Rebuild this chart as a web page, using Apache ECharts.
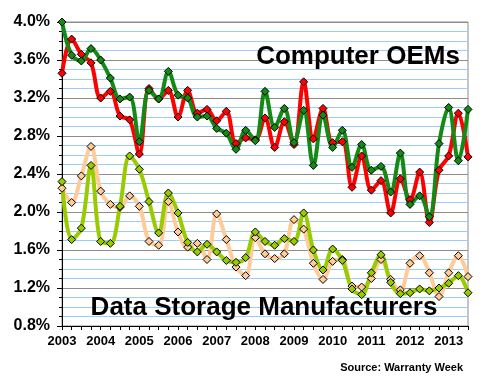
<!DOCTYPE html>
<html>
<head>
<meta charset="utf-8">
<script src="https://cdn.jsdelivr.net/npm/echarts@6/dist/echarts.min.js"></script>
<style>html,body{margin:0;padding:0;background:#fff}#c{width:480px;height:380px}</style>
</head>
<body>
<div id="c"></div>
<script>
var years = ['2003','2004','2005','2006','2007','2008','2009','2010','2011','2012','2013'];
var quarters = [];
for (var yi = 0; yi < years.length; yi++) { for (var q = 1; q <= 4; q++) { quarters.push(years[yi] + ' Q' + q); } }
quarters = quarters.slice(0, 43);

var oemGreen = [4.00,3.65,3.59,3.72,3.60,3.41,3.19,3.21,2.74,3.28,3.19,3.48,3.23,3.20,3.00,3.01,2.88,2.83,2.66,2.86,2.75,3.27,2.89,3.09,2.73,3.07,2.49,3.02,2.68,2.86,2.47,2.71,2.44,2.48,2.21,2.62,2.08,2.17,1.95,2.72,3.10,2.54,3.08];
var oemRed = [3.46,3.82,3.66,3.57,3.20,3.27,3.01,2.97,2.61,3.30,3.19,3.28,3.00,3.28,3.04,3.08,2.96,3.06,2.72,2.78,2.76,2.99,2.68,2.95,2.71,3.37,2.77,3.09,2.73,2.74,2.26,2.59,2.23,2.33,1.99,2.35,2.13,2.42,1.89,2.44,2.59,3.04,2.58];
var storageLime = [2.32,1.71,1.83,2.49,1.69,1.67,2.06,2.59,2.45,2.11,1.78,2.20,1.99,1.68,1.58,1.66,1.58,1.49,1.47,1.52,1.79,1.69,1.65,1.72,1.69,1.99,1.60,1.39,1.61,1.49,1.19,1.13,1.36,1.55,1.26,1.14,1.15,1.19,1.17,1.20,1.25,1.33,1.15];
var storagePeach = [2.25,2.10,2.38,2.69,2.22,2.08,2.05,2.17,2.06,1.69,1.65,2.11,1.79,1.63,1.67,1.50,1.98,1.71,1.42,1.33,1.73,1.56,1.51,1.56,1.92,1.82,1.46,1.29,1.48,1.50,1.22,1.21,1.30,1.50,1.29,1.18,1.46,1.54,1.36,1.11,1.36,1.54,1.32];

var yMin = 0.8, yMax = 4.0, yStep = 0.4;
var titleTop = 'Computer OEMs';
var titleBottom = 'Data Storage Manufacturers';
var sourceText = 'Source: Warranty Week';

function mkSeries(name, data, lineColor, fillColor) {
  return {
    name: name, type: 'line', data: data, smooth: 0.35,
    symbol: 'diamond', symbolSize: 8, showSymbol: true, showAllSymbol: true,
    lineStyle: { color: lineColor, width: 4 },
    itemStyle: { color: fillColor, borderColor: '#000', borderWidth: 1 },
    emphasis: { disabled: true }, animation: false
  };
}

var chart = echarts.init(document.getElementById('c'), null, { renderer: 'canvas' });
chart.setOption({
  animation: false,
  backgroundColor: '#fff',
  grid: { left: 62, right: 12, top: 22, bottom: 54, show: true, borderColor: '#8c8c8c', borderWidth: 1, backgroundColor: 'transparent' },
  title: [
    { text: titleTop, left: 358, top: 44, textAlign: 'center', padding: 0,
      textStyle: { fontFamily: 'Liberation Sans, Arial', fontWeight: 'bold', fontSize: 26, color: '#000' } },
    { text: titleBottom, left: 264, top: 295, textAlign: 'center', padding: 0,
      textStyle: { fontFamily: 'Liberation Sans, Arial', fontWeight: 'bold', fontSize: 26, color: '#000' } },
    { text: sourceText, right: 17, top: 362, padding: 0,
      textStyle: { fontFamily: 'Liberation Sans, Arial', fontWeight: 'bold', fontSize: 11, color: '#000' } }
  ],
  xAxis: {
    type: 'category', data: quarters, boundaryGap: false,
    axisLine: { lineStyle: { color: '#000', width: 1 } },
    axisTick: { show: true, interval: 0, length: 4, lineStyle: { color: '#000' } },
    axisLabel: { interval: 3, margin: 9, color: '#000', fontFamily: 'Liberation Sans, Arial', fontWeight: 'bold', fontSize: 13,
      formatter: function (v) { return v.split(' ')[0]; } },
    splitLine: { show: false }
  },
  yAxis: {
    type: 'value', min: yMin, max: yMax, interval: yStep,
    axisLine: { show: true, lineStyle: { color: '#000', width: 1 } },
    axisTick: { show: true, length: 5, lineStyle: { color: '#000' } },
    minorTick: { show: true, splitNumber: 4, length: 3, lineStyle: { color: '#000' } },
    axisLabel: { margin: 12, color: '#000', fontFamily: 'Liberation Sans, Arial', fontWeight: 'bold', fontSize: 16,
      formatter: function (v) { return v.toFixed(1) + '%'; } },
    splitLine: { show: true, lineStyle: { color: '#8c8c8c', width: 1 } },
    minorSplitLine: { show: true, lineStyle: { color: '#99ccff', width: 1 } }
  },
  series: [
    mkSeries('Storage (peach)', storagePeach, '#ffcc99', '#ffcc99'),
    mkSeries('Storage (lime)', storageLime, '#99cc00', '#99cc00'),
    mkSeries('OEM (red)', oemRed, '#ff0000', '#ff0000'),
    mkSeries('OEM (green)', oemGreen, '#138a13', '#138a13')
  ]
});
</script>
</body>
</html>
